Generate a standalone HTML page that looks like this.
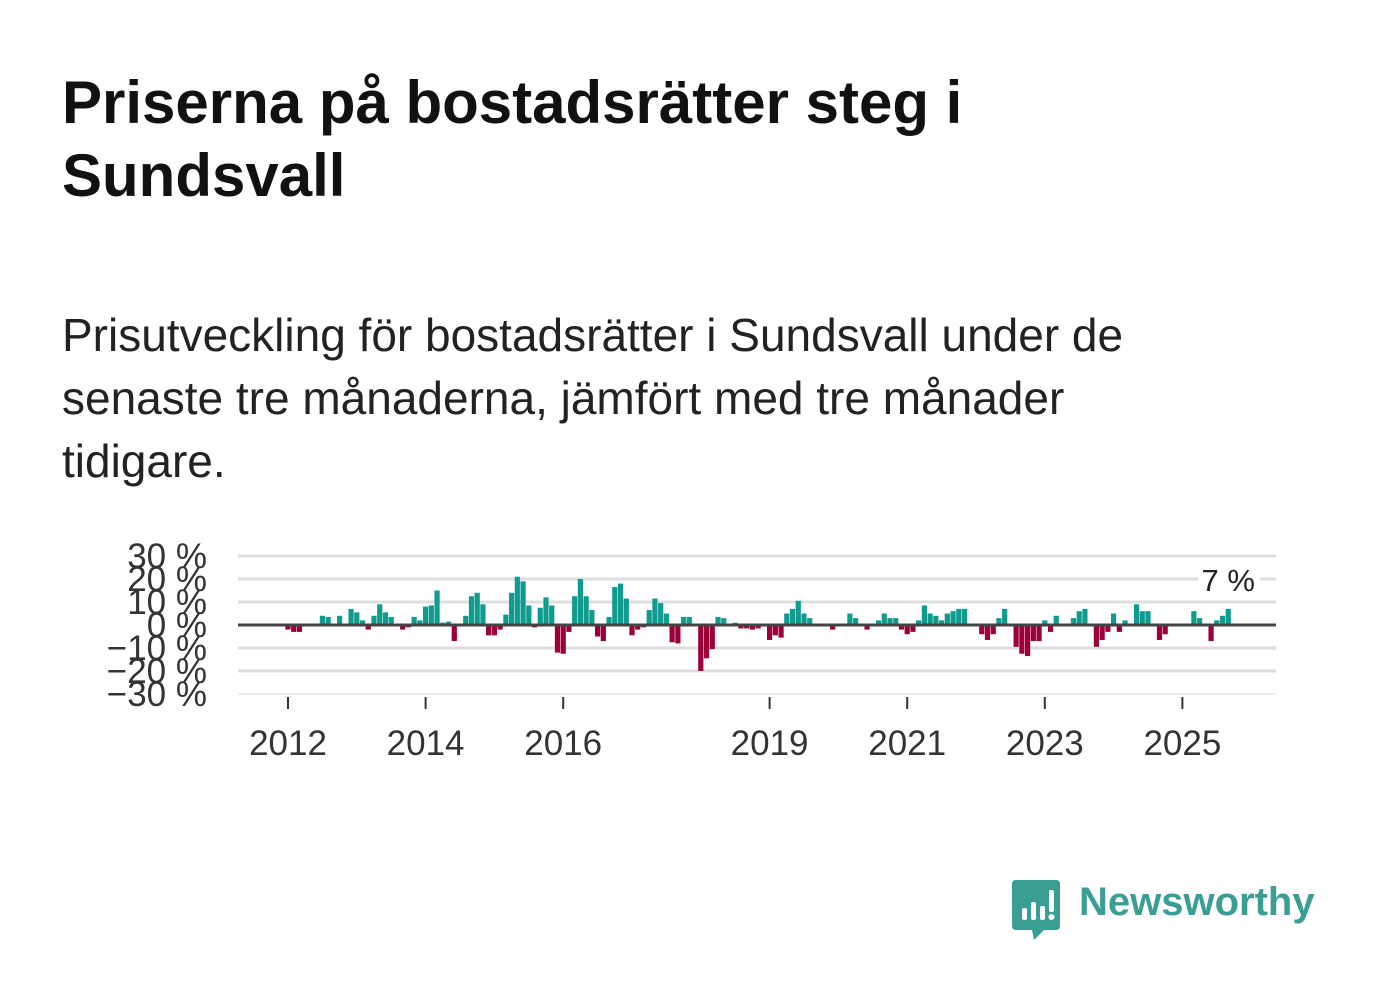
<!DOCTYPE html>
<html><head><meta charset="utf-8">
<style>
body{margin:0;background:#fff;width:1382px;height:999px;overflow:hidden;font-family:"Liberation Sans",sans-serif;}
#title{position:absolute;left:62px;top:66px;margin:0;font-size:60px;line-height:73px;font-weight:bold;color:#111;width:1250px;white-space:nowrap;}
#sub{position:absolute;left:62px;top:304px;margin:0;font-size:46px;line-height:63px;color:#222;width:1300px;white-space:nowrap;}
svg{position:absolute;left:0;top:0;}
</style></head><body>
<h1 id="title">Priserna på bostadsrätter steg i<br>Sundsvall</h1>
<p id="sub">Prisutveckling för bostadsrätter i Sundsvall under de<br>senaste tre månaderna, jämfört med tre månader<br>tidigare.</p>
<svg id="chart" width="1382" height="999"></svg>
<div style="position:absolute;left:1012px;top:880px;">
<svg width="50" height="60" style="position:absolute;left:0;top:0"><path d="M4 0H44Q48 0 48 4V46Q48 50 44 50H32L22 60L20 50H4Q0 50 0 46V4Q0 0 4 0Z" fill="#3a9e94"/><rect x="10" y="28" width="5" height="12" rx="2" fill="#fff"/><rect x="19" y="22" width="5" height="18" rx="2" fill="#fff"/><rect x="28" y="26" width="5" height="14" rx="2" fill="#fff"/><rect x="37" y="10" width="5" height="22" rx="2" fill="#fff"/><circle cx="39.5" cy="37" r="3" fill="#fff"/></svg>
<span style="position:absolute;left:67px;top:0px;font-size:40px;font-weight:bold;color:#3a9e94;white-space:nowrap;">Newsworthy</span>
</div>
<script>
const values=[-2,-3,-3,0,0,0,4,3.5,0,4,0,7,5.5,2,-2,4,9,5.5,3.5,0,-2,-1,3.5,2,
8,8.5,15,1,1.5,-7,0,4,12.5,14,9,-4.5,-4.5,-2,4.5,14,21,19,8.5,-1,7.5,12,8.5,-12,
-12.5,-3,12.5,20,12.5,6.5,-5,-7,3.5,16.5,18,11.5,-4.5,-2,-1,6.5,11.5,9.5,5,-7.5,-8,3.5,3.5,0,
-20,-14.5,-10.5,3.5,3,0,1,-1.5,-1.5,-2,-1.5,0,-6.5,-4.5,-5.5,5,7,10.5,5,3,0,0,0,-2,
0,0,5,3,0,-2,0,2,5,3,3,-2,-4,-3,2,8.5,5,4,2,5,6,7,7,0,
0,-4,-6.5,-4,3,7,0,-9.5,-12.5,-13.5,-7,-7,2,-3,4,0,0,3,6,7,0,-9.5,-6.5,-3,
5,-3,2,0,9,6,6,0,-6.5,-4,0,0,0,0,6,3,0,-7,2,4,7];
const yTicks=[30,20,10,0,-10,-20,-30];
const yTickLabels=["30 %","20 %","10 %","0 %","−10 %","−20 %","−30 %"];
const xTicks=[2012,2014,2016,2019,2021,2023,2025];
const startYear=2012;
const lastLabel="7 %";
const svg=document.getElementById('chart');
const NS='http://www.w3.org/2000/svg';
const X0=238,X1=1276;
const y=v=>625-v*2.3;
const xYear=yr=>288+(yr-startYear)*68.8;
const xMonth=i=>xYear(startYear+i/12);
function mk(t,a){const e=document.createElementNS(NS,t);for(const k in a)e.setAttribute(k,a[k]);svg.appendChild(e);return e;}
yTicks.forEach((v,i)=>{
 if(v!==0){const g=mk('line',{x1:X0,x2:X1,y1:y(v),y2:y(v),stroke:'#ddd','stroke-width':v===-30?1:3});
 
 }
 const t=mk('text',{x:207,y:y(v)+12,'text-anchor':'end','font-size':35,fill:'#333','font-family':'Liberation Sans, sans-serif'});
 t.textContent=yTickLabels[i];
 
 
});
values.forEach((v,i)=>{
 if(v===0)return;
 const cx=xMonth(i);
 const r=mk('rect',{x:cx-2.6,width:5.2,y:Math.min(y(v),y(0)),height:Math.abs(y(v)-y(0)),fill:v>0?'#0f9b8e':'#9c003b'});
 
 
});
const z=mk('line',{x1:X0,x2:X1,y1:y(0),y2:y(0),stroke:'#444','stroke-width':3});


xTicks.forEach(yr=>{
 const l=mk('line',{x1:xYear(yr),x2:xYear(yr),y1:697,y2:709,stroke:'#333','stroke-width':2});
 
 
 const t=mk('text',{x:xYear(yr),y:755,'text-anchor':'middle','font-size':35,fill:'#333','font-family':'Liberation Sans, sans-serif'});
 t.textContent=yr;
 
 
});
const lx=xMonth(values.length-1);
const bg=mk('rect',{x:lx-30,y:y(20)-18,width:62,height:34,fill:'#fff'});


const lt=mk('text',{x:lx,y:y(20)+12,'text-anchor':'middle','font-size':31,fill:'#222','font-family':'Liberation Sans, sans-serif'});
lt.textContent=lastLabel;


</script>
</body></html>
